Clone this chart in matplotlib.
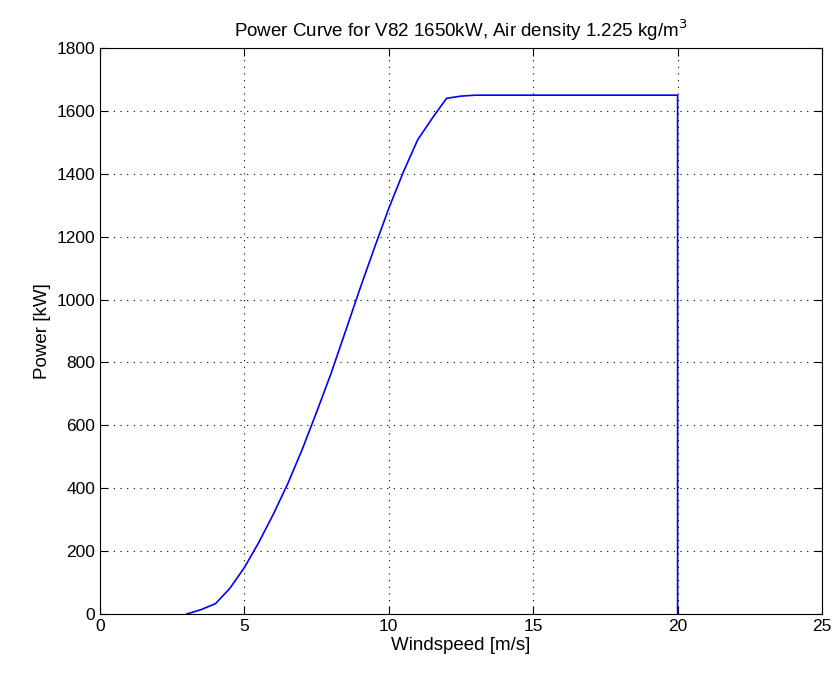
import matplotlib
matplotlib.use("Agg")
import matplotlib.pyplot as plt

windspeed = [3, 3.5, 4, 4.5, 5, 5.5, 6, 6.5, 7, 7.5, 8, 8.5, 9, 9.5, 10, 10.5, 11, 11.5, 12,
             12.5, 13, 14, 15, 16, 17, 18, 19, 20, 20]
power = [0, 14, 33, 82, 148, 228, 317, 414, 523, 642, 765, 899, 1034, 1164, 1290, 1405, 1508, 1576, 1640,
         1647, 1650, 1650, 1650, 1650, 1650, 1650, 1650, 1650, 0]

xticks = [0, 5, 10, 15, 20, 25]
yticks = [0, 200, 400, 600, 800, 1000, 1200, 1400, 1600, 1800]

plt.rcParams['font.family'] = ['Liberation Sans', 'DejaVu Sans']

fig = plt.figure(figsize=(8.34, 6.79), dpi=100)
ax = fig.add_axes([0.1199, 0.0957, 0.8657, 0.8336])
ax.plot(windspeed, power, color='#0000ff', linewidth=1.2)
ax.set_xlim(0, 25)
ax.set_ylim(0, 1800)
ax.set_xticks(xticks)
ax.set_yticks(yticks)
ax.tick_params(direction='in', top=True, right=True, labelsize=12.5, length=6, width=0.8)
ax.grid(True, linestyle=(0, (1, 5)), color='black', linewidth=0.8)
for s in ax.spines.values():
    s.set_linewidth(0.8)
ax.set_xlabel('Windspeed [m/s]', fontsize=13.5, labelpad=2)
ax.set_ylabel('Power [kW]', fontsize=13.5, labelpad=4)
ax.set_title('Power Curve for V82 1650kW, Air density 1.225 kg/m$^3$', fontsize=13.5, pad=8)
fig.savefig('out.png', dpi=100)
